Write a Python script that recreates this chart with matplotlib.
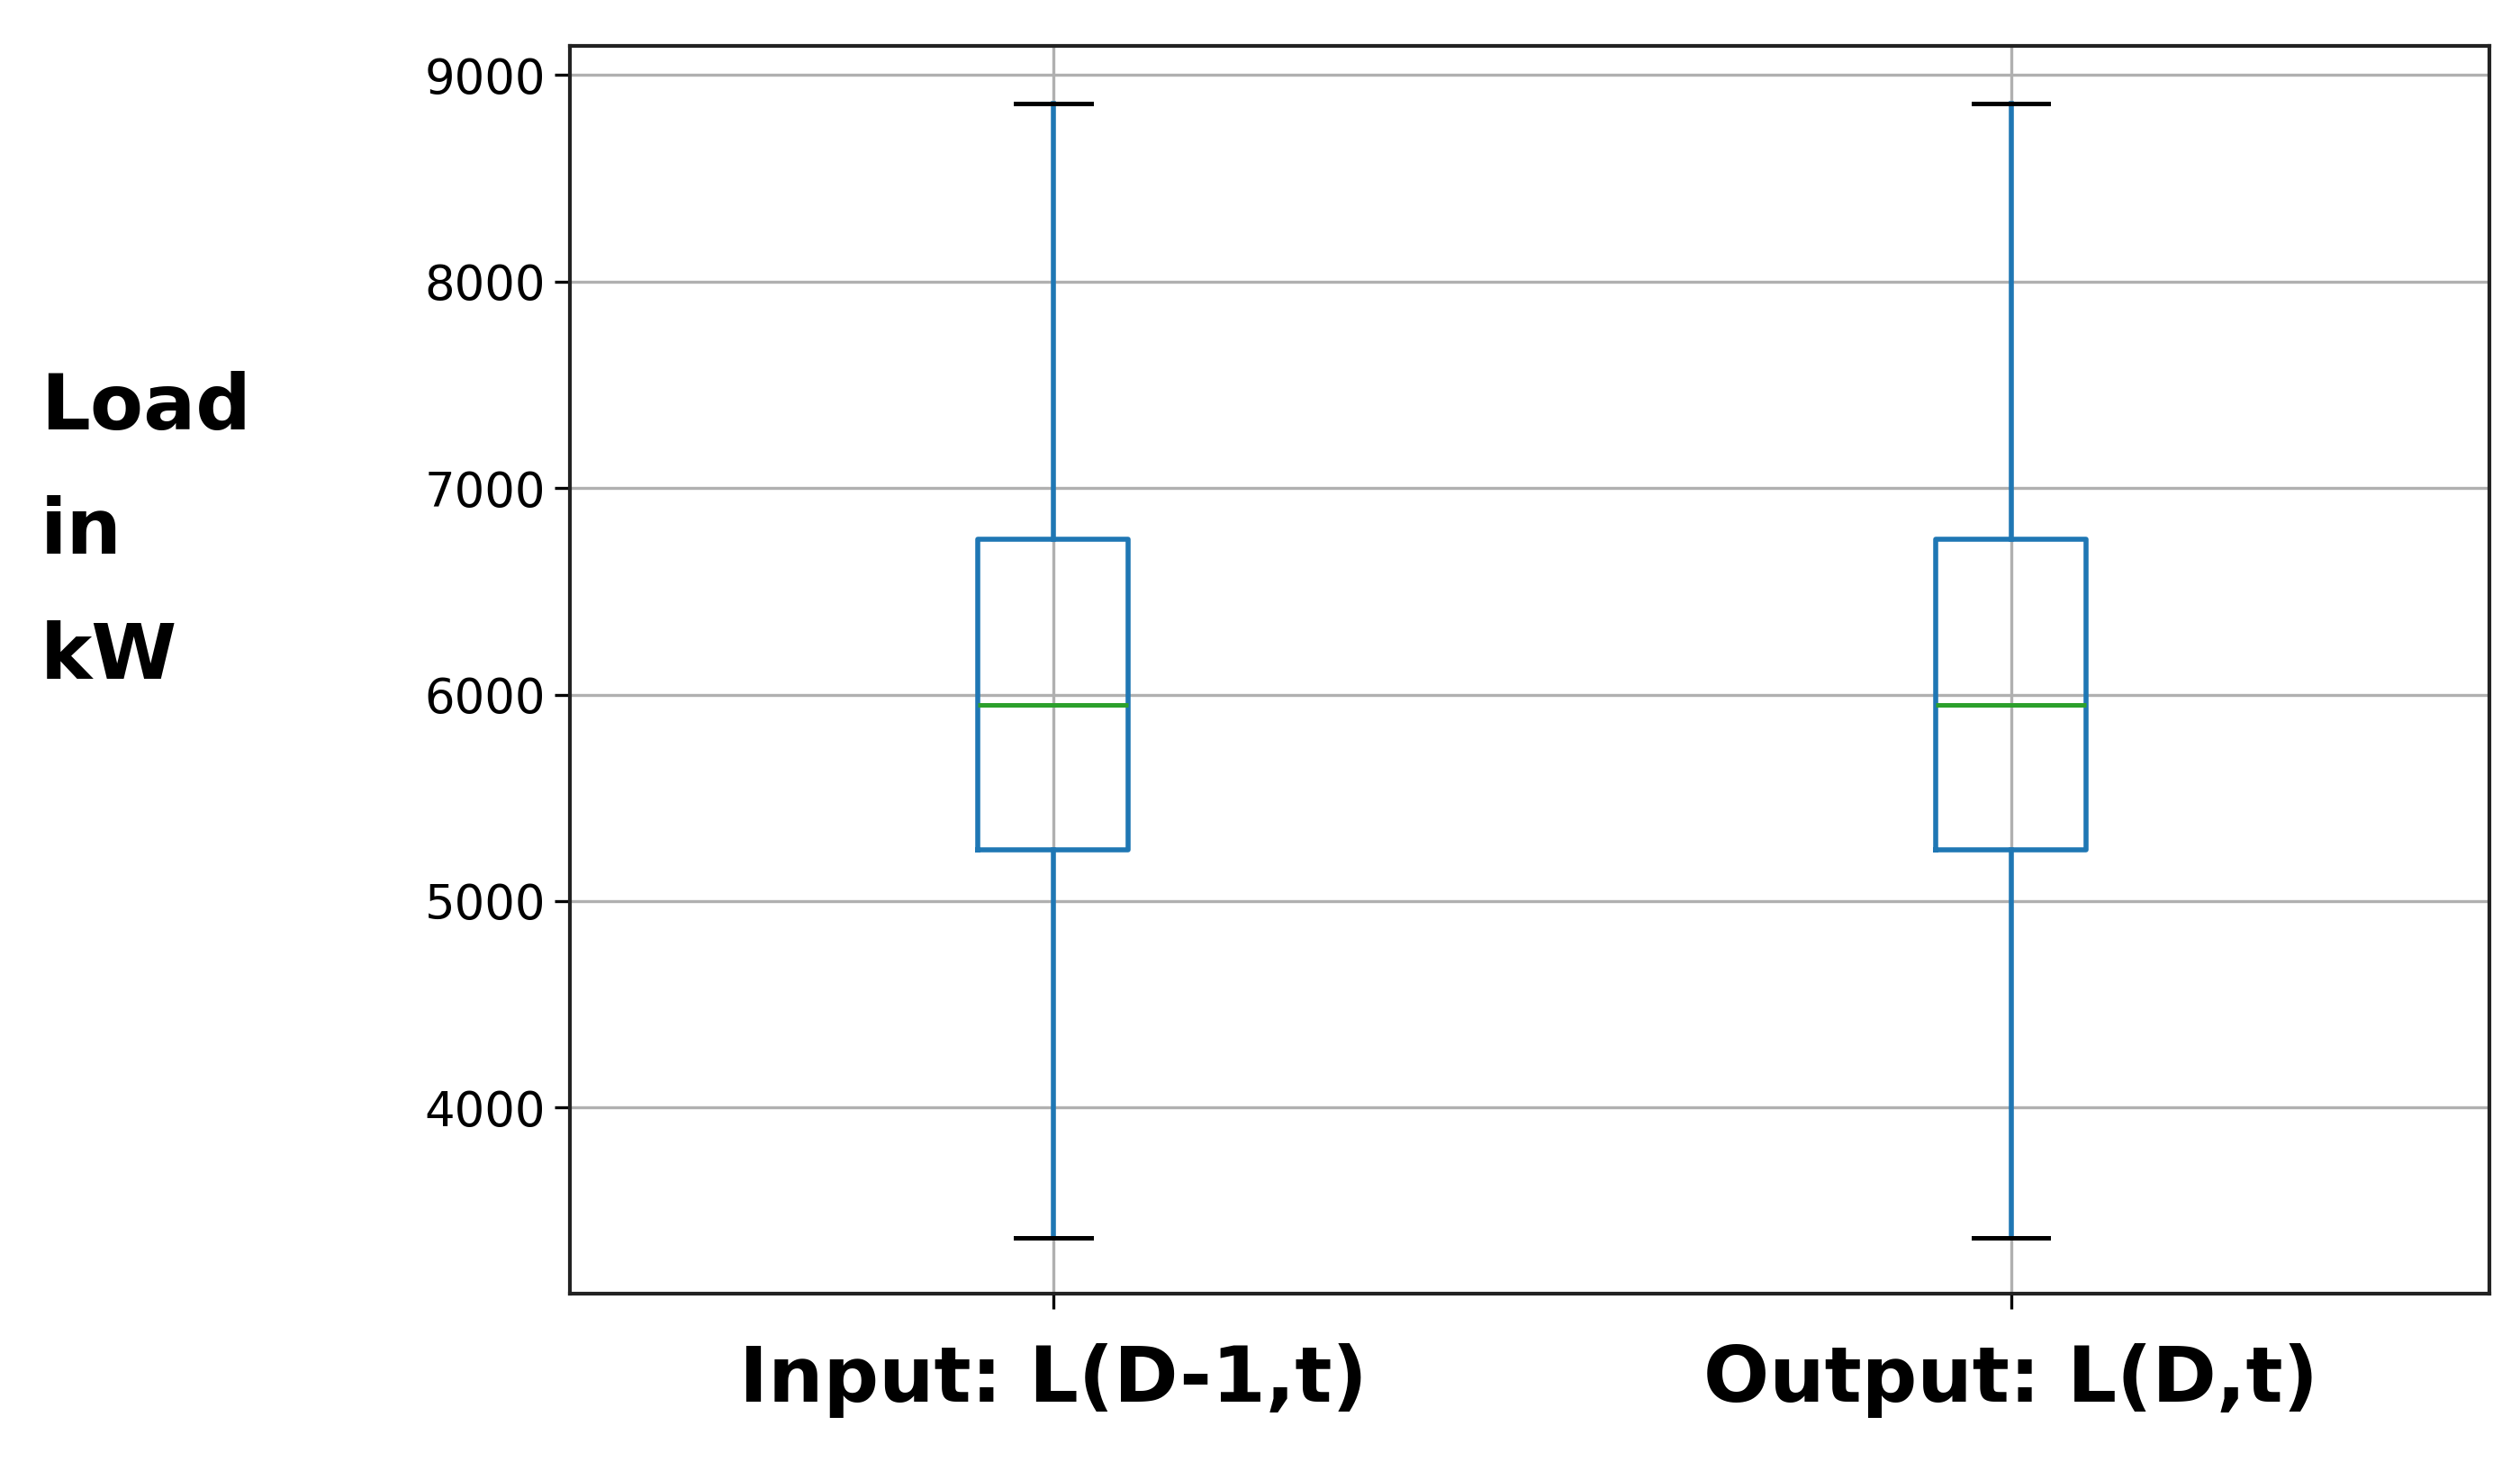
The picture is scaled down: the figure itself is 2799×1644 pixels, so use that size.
import matplotlib
matplotlib.use("Agg")
import matplotlib.pyplot as plt

labels = ["Input: L(D-1,t)", "Output: L(D,t)"]
whislo = [3370, 3370]
q1 = [5250, 5250]
med = [5950, 5950]
q3 = [6750, 6750]
whishi = [8860, 8860]
yticks = [4000, 5000, 6000, 7000, 8000, 9000]

stats = [dict(label=l, whislo=a, q1=b, med=c, q3=d, whishi=e, fliers=[])
         for l, a, b, c, d, e in zip(labels, whislo, q1, med, q3, whishi)]

fig = plt.figure(figsize=(13.995, 8.22), dpi=200)
ax = fig.add_axes([0.226, 0.126, 0.762, 0.843])
blue = "#1f77b4"
ax.bxp(stats, positions=[1, 2], widths=0.157, showfliers=False,
       boxprops=dict(color=blue, linewidth=2),
       whiskerprops=dict(color=blue, linewidth=2),
       capprops=dict(color="black", linewidth=1.8),
       medianprops=dict(color="#2ca02c", linewidth=1.8))
ax.set_xlim(0.495, 2.50)
ax.set_ylim(3100, 9141)
ax.set_yticks(yticks)
ax.grid(True, color="#b0b0b0", linewidth=1.2)
ax.set_axisbelow(True)
for s in ax.spines.values():
    s.set_linewidth(1.5)
    s.set_color("#222222")
ax.tick_params(axis="y", labelsize=19, length=6, width=1.2)
ax.tick_params(axis="x", labelsize=31, length=6, width=1.2, pad=14)
for t in ax.get_xticklabels():
    t.set_fontweight("bold")
fig.text(0.016, 0.64, "Load\nin\nkW", fontsize=31, fontweight="bold",
         va="center", ha="left", linespacing=1.85)
fig.savefig("out.png", dpi=200)
